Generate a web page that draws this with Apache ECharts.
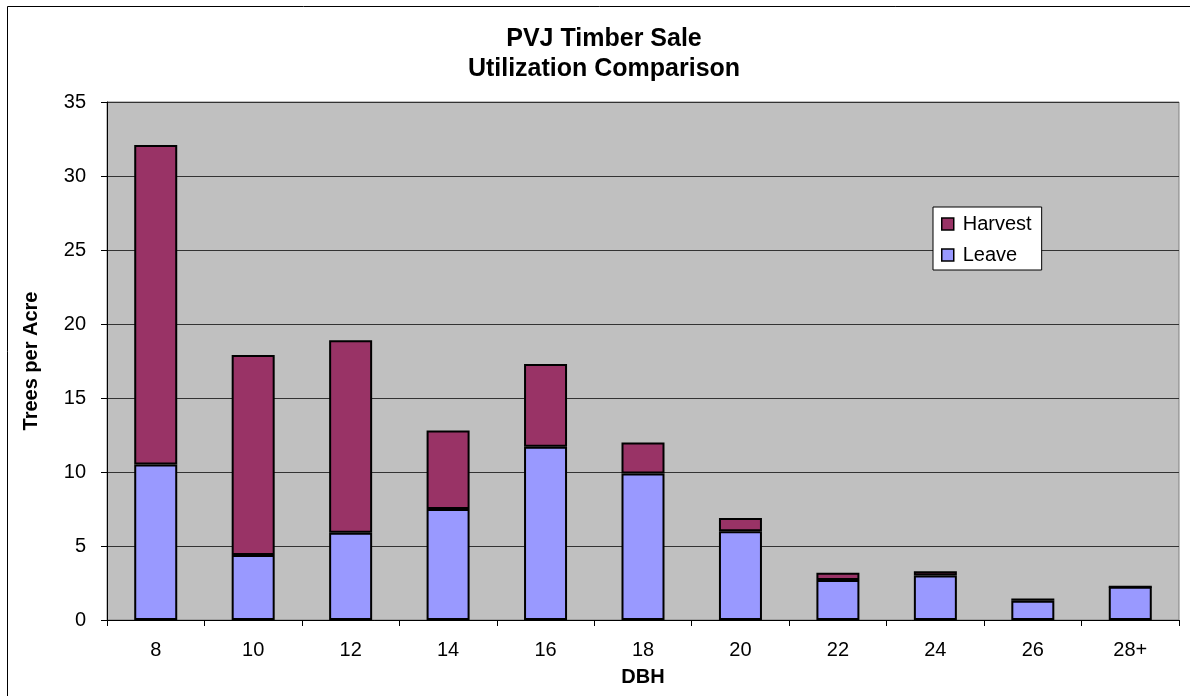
<!DOCTYPE html>
<html><head><meta charset="utf-8">
<script src="https://cdn.jsdelivr.net/npm/echarts@6/dist/echarts.min.js"></script>
<style>html,body{margin:0;padding:0;background:#fff}#c{width:1190px;height:696px}</style>
</head><body><div id="c"></div>
<script>
const categories = ['8','10','12','14','16','18','20','22','24','26','28+'];
const leave   = [10.5, 4.4, 5.9, 7.5, 11.7, 9.9, 6.0, 2.7, 3.0, 1.3, 2.25];
const harvest = [21.6, 13.5, 13.0, 5.3, 5.6, 2.1, 0.9, 0.5, 0.3, 0.15, 0];
const titleLines = ['PVJ Timber Sale', 'Utilization Comparison'];
const yTicks = {min: 0, max: 35, interval: 5};

const chart = echarts.init(document.getElementById('c'));
const font = 'Liberation Sans, Arial, sans-serif';
chart.setOption({
  animation: false,
  backgroundColor: '#fff',
  title: {
    text: titleLines.join('\n'),
    left: 604, top: 24, textAlign: 'center', padding: 0,
    textStyle: {fontFamily: font, fontSize: 25, fontWeight: 'bold', color: '#000', lineHeight: 30}
  },
  graphic: [{
    type: 'rect', shape: {x: 7.5, y: 6.5, width: 1200, height: 700},
    style: {fill: 'none', stroke: '#000', lineWidth: 1}, z: -1
  }],
  legend: {
    data: ['Harvest', 'Leave'],
    orient: 'vertical',
    left: 933, top: 207,
    padding: [7, 10, 5, 8],
    itemGap: 11,
    backgroundColor: '#fff',
    borderColor: '#000', borderWidth: 1,
    itemWidth: 12, itemHeight: 12,
    icon: 'rect',
    itemStyle: {borderColor: '#000', borderWidth: 1.5},
    textStyle: {fontFamily: font, fontSize: 20, color: '#000', padding: [0, 0, 0, 4], lineHeight: 20}
  },
  grid: {left: 107, right: 11, top: 102, bottom: 76, show: true, backgroundColor: '#c0c0c0', borderColor: '#808080', borderWidth: 1},
  xAxis: {
    type: 'category', data: categories,
    name: 'DBH', nameLocation: 'middle', nameGap: 47,
    nameTextStyle: {fontFamily: font, fontSize: 20, fontWeight: 'bold', color: '#000'},
    axisLine: {lineStyle: {color: '#000', width: 1}},
    axisTick: {show: true, length: 6, lineStyle: {color: '#000'}},
    axisLabel: {fontFamily: font, fontSize: 20, color: '#000', margin: 20}
  },
  yAxis: {
    type: 'value', min: yTicks.min, max: yTicks.max, interval: yTicks.interval,
    name: 'Trees per Acre', nameLocation: 'middle', nameGap: 66,
    nameTextStyle: {fontFamily: font, fontSize: 20, fontWeight: 'bold', color: '#000'},
    axisLine: {show: true, lineStyle: {color: '#000', width: 1}},
    axisTick: {show: true, length: 6, lineStyle: {color: '#000'}},
    axisLabel: {fontFamily: font, fontSize: 20, color: '#000', margin: 21},
    splitLine: {lineStyle: {color: '#333', width: 1}}
  },
  series: [
    {name: 'Leave', type: 'bar', stack: 't', data: leave, barWidth: 43,
     itemStyle: {color: '#9999ff', borderColor: '#000', borderWidth: 2}},
    {name: 'Harvest', type: 'bar', stack: 't', data: harvest, barWidth: 43,
     itemStyle: {color: '#993366', borderColor: '#000', borderWidth: 2}}
  ]
});
</script></body></html>
